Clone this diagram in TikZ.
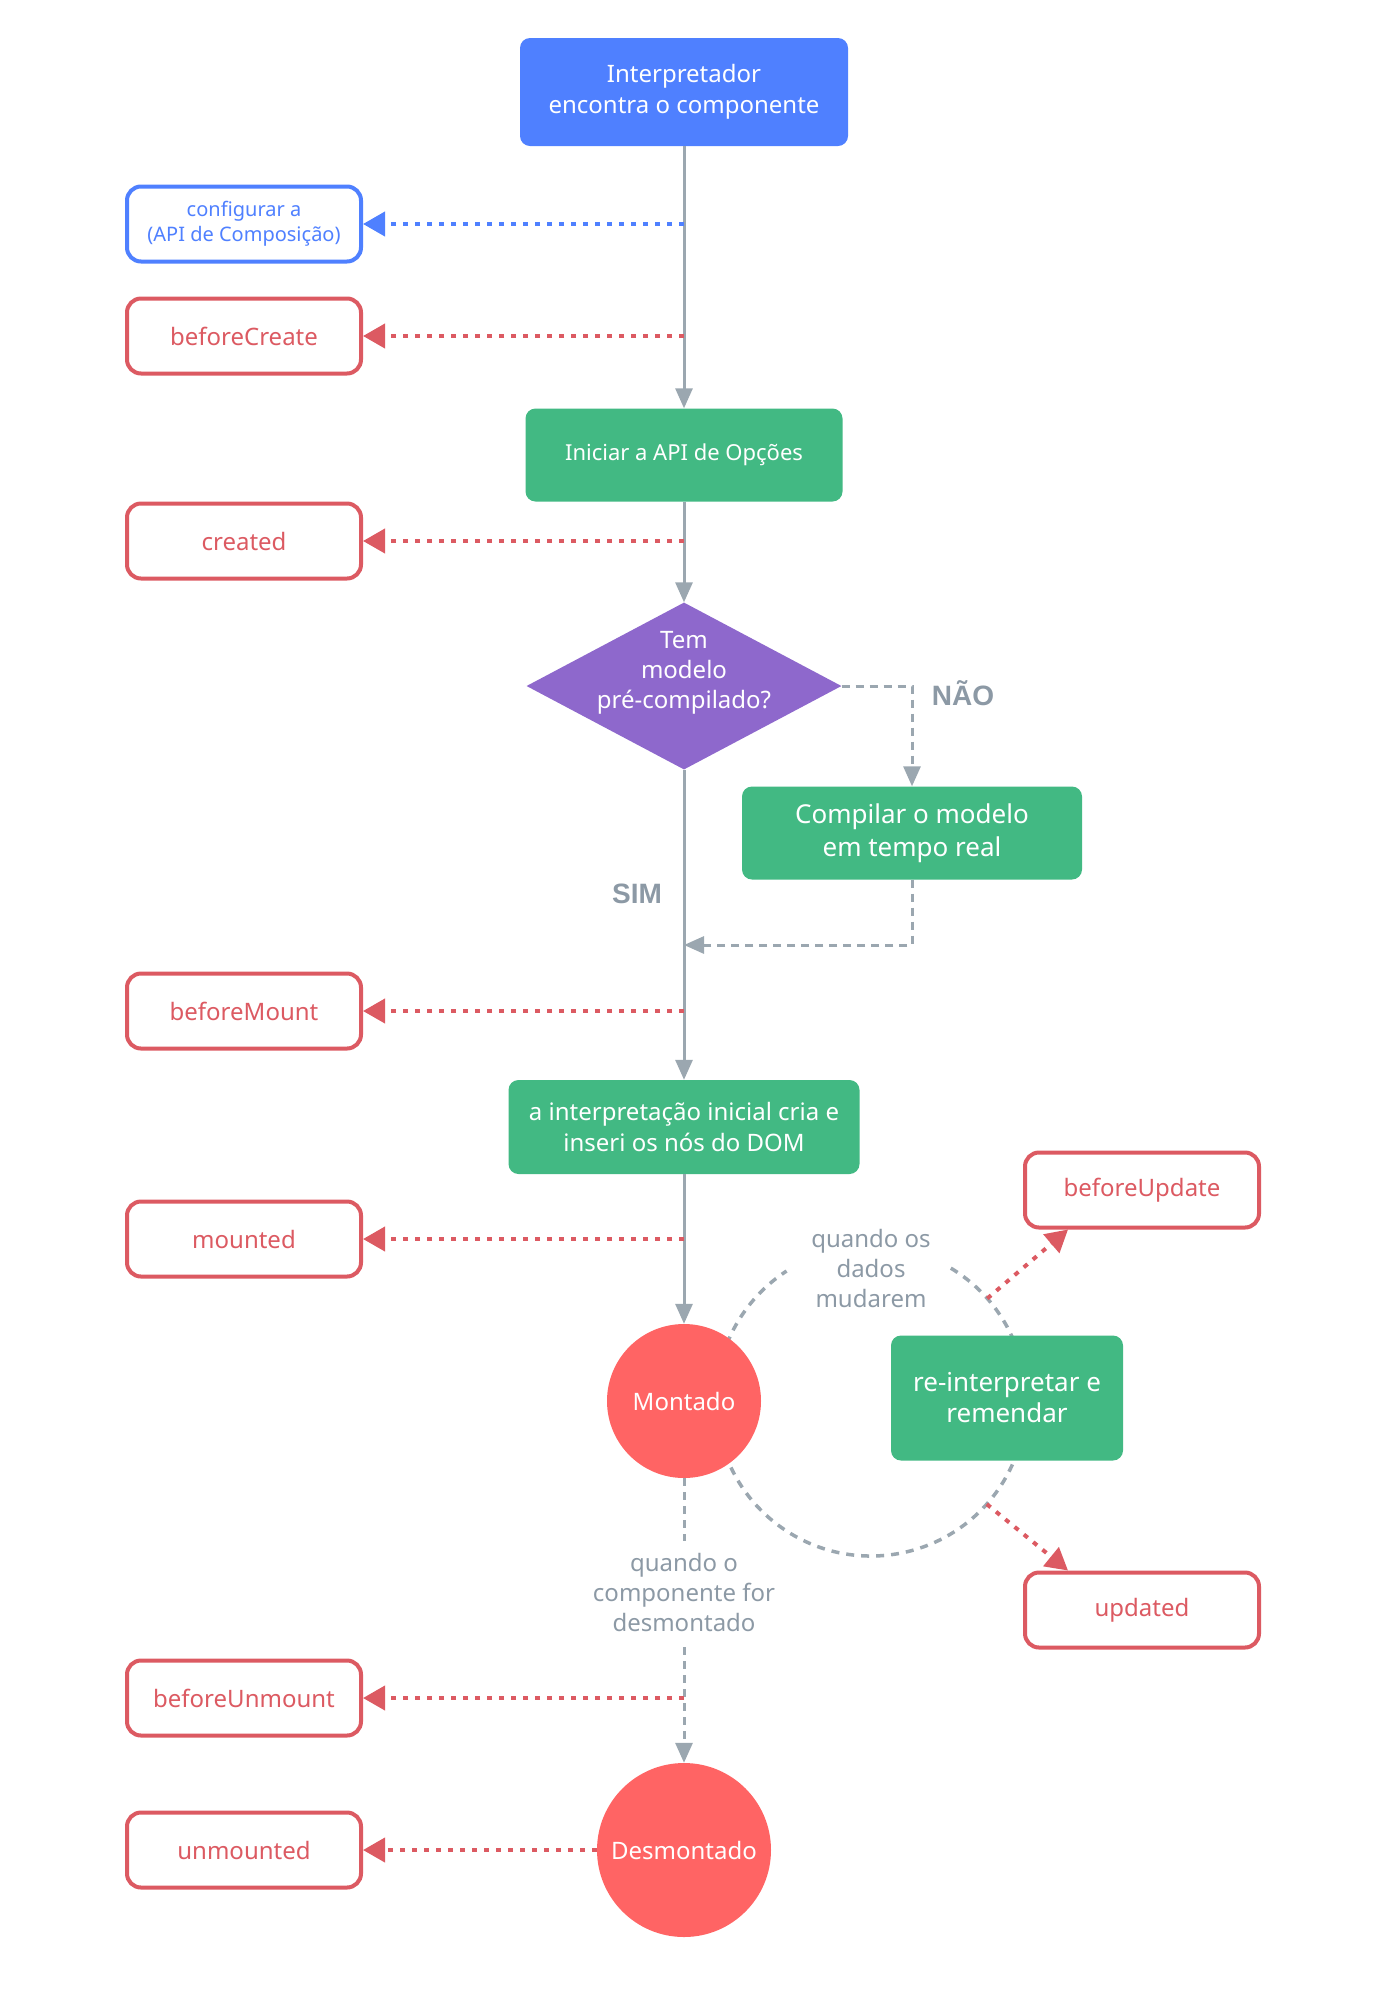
\documentclass[tikz,border=0pt]{standalone}
\usepackage{fontspec}
\setmainfont{Noto Sans}
\newfontfamily\lblfont{Liberation Sans}
\usetikzlibrary{arrows.meta,shapes.geometric,backgrounds}
\definecolor{vblue}{HTML}{4F80FF}
\definecolor{vgreen}{HTML}{42B983}
\definecolor{vpurple}{HTML}{8E68CC}
\definecolor{vred}{HTML}{FF6464}
\definecolor{vredline}{HTML}{DC5A62}
\definecolor{vgray}{HTML}{9BA7B0}
\definecolor{vtext}{HTML}{8C99A5}
\newcommand{\fs}[2]{\fontsize{#1}{#2}\selectfont}
\begin{document}
\begin{tikzpicture}[x=1pt,y=-1pt,
  startbox/.style={fill=vblue, rounded corners=10pt, text=white, align=center, inner sep=0pt,
    minimum width=328pt, minimum height=108pt, font=\fs{24}{31}},
  procbox/.style={fill=vgreen, rounded corners=10pt, text=white, align=center, inner sep=0pt, font=\fs{24}{31}},
  hookbox/.style={draw=vredline, line width=4pt, fill=white, rounded corners=14pt, text=vredline,
    minimum width=234pt, minimum height=75pt, inner sep=0pt, font=\fs{24}{30}},
  apibox/.style={hookbox, draw=vblue, text=vblue, font=\fs{20}{25}, align=center},
  statecirc/.style={circle, fill=vred, text=white, inner sep=0pt, font=\fs{24}{30}},
  gtext/.style={text=vtext, align=center, inner sep=0pt, font=\fs{24}{30}},
  blbl/.style={text=vtext, inner sep=0pt, font=\lblfont\bfseries\fs{28}{32}},
  flow/.style={draw=vgray, line width=3pt, -{Triangle[length=20pt,width=17pt]}},
  gdash/.style={draw=vgray, line width=3pt, dash pattern=on 8pt off 6pt},
  gdasharrow/.style={gdash, -{Triangle[length=20pt,width=17pt]}},
  hookarrow/.style={draw=vredline, line width=4pt, dash pattern=on 5pt off 7pt, -{Triangle[length=22pt,width=24pt]}},
  apiarrow/.style={hookarrow, draw=vblue},
  loopline/.style={draw=vgray, line width=3.5pt, dash pattern=on 8pt off 7pt}
]
\useasboundingbox (0,0) rectangle (1376,1998);

% main column
\node[startbox] (start) at (684,92) {Interpretador\\encontra o componente};
\node[procbox, minimum width=317pt, minimum height=93pt, font=\fs{22}{28}] (opt) at (684,455) {Iniciar a API de Opções};
\node[diamond, fill=vpurple, minimum width=315pt, minimum height=167pt, inner sep=0pt] (dia) at (684,686) {};
\node[text=white, align=center, inner sep=0pt, font=\fs{24}{30}] (diatext) at (684,673) {Tem\\modelo\\pré-compilado?};
\node[procbox, minimum width=340pt, minimum height=93pt, font=\fs{26}{33}] (comp) at (912,833) {Compilar o modelo\\em tempo real};
\node[blbl] (nao) at (963,693) {NÃO};
\node[blbl] (sim) at (637,894) {SIM};
\node[procbox, minimum width=351pt, minimum height=94pt] (init) at (684,1127) {a interpretação inicial cria e\\inseri os nós do DOM};
\node[statecirc, minimum size=154pt] (mont) at (684,1401) {Montado};
\node[procbox, minimum width=232pt, minimum height=125pt, font=\fs{26}{31}] (rer) at (1007,1398) {re-interpretar e\\remendar};
\node[gtext] (qd) at (871,1268) {quando os\\dados\\mudarem};
\node[gtext] (qc) at (684,1592) {quando o\\componente for\\desmontado};
\node[statecirc, minimum size=174pt] (desm) at (684,1850) {Desmontado};

% hooks
\node[apibox] (cfg) at (244,224) {configurar a\\(API de Composição)};
\node[hookbox] (bc) at (244,336) {beforeCreate};
\node[hookbox] (created) at (244,541) {created};
\node[hookbox] (bm) at (244,1011) {beforeMount};
\node[hookbox] (mounted) at (244,1239) {mounted};
\node[hookbox] (bum) at (244,1698) {beforeUnmount};
\node[hookbox] (unm) at (244,1850) {unmounted};
\node[hookbox] (bu) at (1142,1190) {beforeUpdate};
\node[hookbox] (upd) at (1142,1610) {updated};

% loop circle
\coordinate (loopc) at (871,1401);
\begin{pgfonlayer}{background}
\draw[loopline] (loopc) ++(301:155) arc[start angle=301, end angle=597, radius=155];
\end{pgfonlayer}
\path (loopc) ++(318.6:155) coordinate (bu0);
\path (loopc) ++(41.7:155) coordinate (up0);

% points on main line
\coordinate (p1) at (684,224);
\coordinate (p2) at (684,336);
\coordinate (p3) at (684,541);
\coordinate (p4) at (684,1011);
\coordinate (p5) at (684,1239);
\coordinate (p6) at (684,1698);
\coordinate (ret) at (684,945);

% main flow
\draw[flow] (start.south) -- (opt.north);
\draw[flow] (opt.south) -- (dia.north);
\draw[flow] (dia.south) -- (init.north);
\draw[flow] (init.south) -- (mont.north);
\draw[gdasharrow] (dia.east) -| (comp.north);
\draw[gdasharrow] (comp.south) |- (ret);
\draw[gdash] (mont.south) -- ([yshift=12pt]qc.north);
\draw[gdasharrow] ([yshift=-16pt]qc.south) -- (desm.north);

% hook arrows
\draw[apiarrow] (p1) -- (cfg.east);
\draw[hookarrow] (p2) -- (bc.east);
\draw[hookarrow] (p3) -- (created.east);
\draw[hookarrow] (p4) -- (bm.east);
\draw[hookarrow] (p5) -- (mounted.east);
\draw[hookarrow] (p6) -- (bum.east);
\draw[hookarrow] (desm.west) -- (unm.east);
\draw[hookarrow] (bu0) -- ([xshift=45pt]bu.south west);
\draw[hookarrow] (up0) -- ([xshift=45pt]upd.north west);
\end{tikzpicture}
\end{document}
